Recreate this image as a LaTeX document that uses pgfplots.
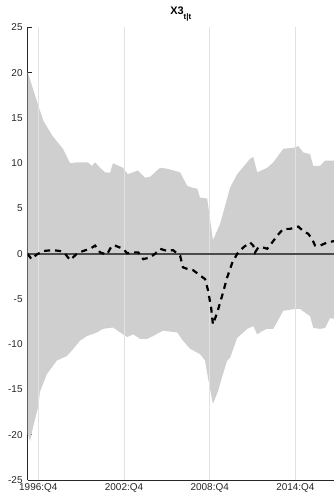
\documentclass[border=0pt]{standalone}
\usepackage{fontspec}
\setmainfont{Liberation Sans}
\usepackage{pgfplots}
\pgfplotsset{compat=1.18}
\definecolor{fangray}{RGB}{207,207,207}
\definecolor{axgray}{RGB}{38,38,38}
\definecolor{gridgray}{RGB}{226,226,226}
\definecolor{zerogray}{RGB}{75,75,75}
\begin{document}
\begin{tikzpicture}
\useasboundingbox (-27.6bp,-18bp) rectangle (306.4bp,480bp);
\begin{axis}[
  at={(0,0)}, anchor=south west,
  scale only axis, width=306.4bp, height=452.5bp,
  xmin=0, xmax=85.8, ymin=-25, ymax=25,
  axis x line*=bottom, axis y line*=left,
  axis line style={axgray, line width=0.6bp, -},
  xtick={3,27,51,75},
  xticklabels={1996:Q4,2002:Q4,2008:Q4,2014:Q4},
  ytick={-25,-20,-15,-10,-5,0,5,10,15,20,25},
  yticklabels={-25,-20,-15,-10,-5,0,5,10,15,20,25},
  tick align=inside, major tick length=4bp,
  tick style={axgray, line width=0.6bp},
  ticklabel style={font=\fontsize{10}{12}\selectfont, text=axgray},
  yticklabel style={xshift=-1.5bp},
  title={\textbf{X3}\raisebox{-0.5em}{\fontsize{8}{8}\selectfont\textbf{t|t}}},
  title style={at={(0.5,1)}, anchor=base, yshift=7.5bp, font=\fontsize{11}{13}\selectfont},
  clip=true,
]
% fan band (upper envelope forward, lower envelope backward)
\addplot[fill=fangray, draw=none] coordinates {
(0,20.1) (2,17.6) (4.4,14.7) (7,13.0) (9.9,11.6) (11.9,10.0) (13.8,10.1) (16.9,10.1) (18.0,9.7) (18.9,10.1)
(20.3,9.5) (21.7,9.0) (23.1,8.95) (23.9,10.0) (26.7,9.5) (28.1,8.8) (30.9,9.2) (32.9,8.4) (34.3,8.5)
(37.1,9.5) (39.1,9.4) (42.7,9.0) (44.7,7.5) (46.1,7.3) (47.5,7.2) (48.3,6.2) (50.3,6.1) (51.9,1.5)
(53.9,3.3) (56.7,7.3) (58.7,8.8) (62.3,10.5) (63.2,10.7) (64.3,9.0) (67.1,9.5) (68.8,10.1) (71.6,11.6)
(74.4,11.7) (75.8,11.9) (77.2,11.2) (79.1,11.0) (80.0,9.7) (81.9,9.7) (83.3,10.3) (85.8,10.3)
(85.8,-7.2) (84.7,-7.1) (83.3,-8.2) (81.9,-8.3) (80.0,-8.2) (79.1,-6.9) (76.3,-6.1) (74.9,-6.1) (71.6,-6.3)
(68.8,-8.3) (67.1,-8.3) (65.9,-8.5) (64.3,-8.9) (63.2,-8.0) (61.5,-8.3) (58.7,-9.3) (56.7,-11.5)
(55.9,-11.8) (54.7,-13.3) (53.3,-15.2) (51.9,-16.6) (50.5,-13.7) (49.7,-11.8) (48.3,-11.1) (45.5,-10.5)
(43.5,-9.6) (41.9,-8.7) (37.9,-8.5) (35.1,-9.1) (33.5,-9.4) (31.5,-9.4) (29.6,-8.9) (27.9,-9.2)
(26.7,-8.9) (23.9,-8.15) (21.1,-8.3) (19.4,-8.7) (16.6,-9.1) (14.7,-9.6) (12.4,-10.7) (11.0,-11.3)
(8.2,-11.8) (5.4,-13.3) (3.5,-15.2) (2.9,-17.0) (1.5,-19.2) (0.7,-20.7) (0,-19.9)
} -- cycle;
% vertical grid lines
\addplot[gridgray, line width=1bp] coordinates {(3,-25) (3,25)};
\addplot[gridgray, line width=1bp] coordinates {(27,-25) (27,25)};
\addplot[gridgray, line width=1bp] coordinates {(51,-25) (51,25)};
\addplot[gridgray, line width=1bp] coordinates {(75,-25) (75,25)};
% zero line
\addplot[zerogray, line width=1.8bp] coordinates {(0,0) (85.8,0)};
% filtered state
\addplot[black, line width=2.2bp, dash pattern=on 6bp off 5bp] coordinates {
(0,0) (1.1,-0.6) (2.5,-0.1) (4.3,0.3) (7.1,0.4) (9.1,0.3) (10.5,0) (11.9,-0.7) (13.8,0) (15.5,0.3)
(17.5,0.55) (18.9,0.9) (20.3,0.15) (22.2,-0.1) (23.6,0.9) (24.5,0.9) (26.7,0.55) (27.9,0.05) (29.6,0.15)
(31.0,0.15) (32.4,-0.6) (34.3,-0.4) (35.7,0) (37.1,0.55) (39.1,0.3) (40.7,0.4) (42.7,-0.2) (43.5,-1.5)
(44.9,-1.7) (46.3,-1.8) (48.3,-2.4) (49.7,-2.8) (50.5,-4.0) (51.4,-6.0) (51.9,-7.8) (53.1,-6.5)
(54.5,-4.6) (55.9,-2.6) (57.3,-1.0) (58.7,0.0) (60.4,0.7) (62.3,1.25) (63.2,0.9) (63.7,0.15) (64.6,0.7)
(65.9,0.7) (67.1,0.55) (68.5,1.25) (69.9,2.0) (71.6,2.75) (73.5,2.75) (75.8,3.0) (77.2,2.5) (78.6,2.2)
(79.7,1.6) (80.5,0.9) (81.9,0.9) (83.9,1.25) (85.8,1.4)
};
\end{axis}
\end{tikzpicture}
\end{document}
